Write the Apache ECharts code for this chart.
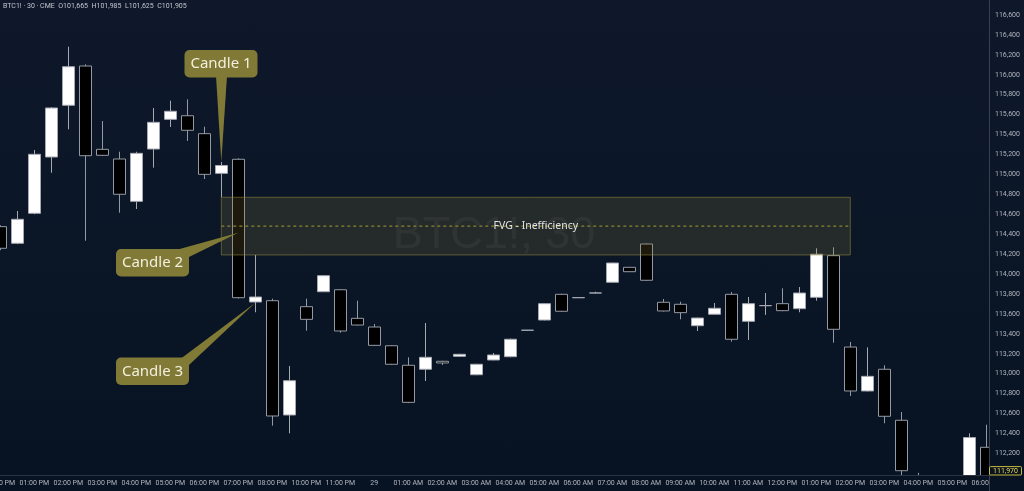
<!DOCTYPE html>
<html>
<head>
<meta charset="utf-8">
<script src="https://cdn.jsdelivr.net/npm/echarts@6/dist/echarts.min.js"></script>
<style>
  html, body { margin: 0; padding: 0; overflow: hidden; width: 1024px; height: 491px; }
  body { background: linear-gradient(#0e182a, #071323); position: relative; }
  /* chart canvas shifted so the first bar sits on the left edge, as in the screenshot */
  #chart { position: absolute; left: -9px; top: -5px; width: 1040px; height: 500px; }
</style>
</head>
<body>
<div id="chart"></div>
<script>
// 30 min bars, BTC1! CME
const times = [
  "12:00 PM", "12:30 PM", "01:00 PM", "01:30 PM", "02:00 PM", "02:30 PM", "03:00 PM", "03:30 PM",
  "04:00 PM", "04:30 PM", "05:00 PM", "05:30 PM", "06:00 PM", "06:30 PM", "07:00 PM", "07:30 PM",
  "08:00 PM", "08:30 PM", "10:00 PM", "10:30 PM", "11:00 PM", "11:30 PM", "29", "12:30 AM",
  "01:00 AM", "01:30 AM", "02:00 AM", "02:30 AM", "03:00 AM", "03:30 AM", "04:00 AM", "04:30 AM",
  "05:00 AM", "05:30 AM", "06:00 AM", "06:30 AM", "07:00 AM", "07:30 AM", "08:00 AM", "08:30 AM",
  "09:00 AM", "09:30 AM", "10:00 AM", "10:30 AM", "11:00 AM", "11:30 AM", "12:00 PM", "12:30 PM",
  "01:00 PM", "01:30 PM", "02:00 PM", "02:30 PM", "03:00 PM", "03:30 PM", "04:00 PM", "04:30 PM",
  "05:00 PM", "05:30 PM", "06:00 PM"
];

const opens = [
  114476, 114309, 114610, 115175, 115694, 116088, 115252, 115155, 114730, 115255,
  115553, 115589, 115409, 115011, 115152, 113720, 113733, 112586, 113673, 113823,
  113843, 113556, 113469, 113281, 113085, 113045, 113125, 113175, 112990, 113138,
  113171, 113436, 113539, 113797, 113763, 113810, 113918, 114068, 114302, 113717,
  113697, 113482, 113597, 113797, 113526, 113683, 113703, 113653, 113767, 114185,
  113268, 112827, 113045, 112533, 111950, 111880, 111840, 111900, 112262
];
const closes = [
  114259, 114550, 115202, 115667, 116081, 115188, 115192, 114801, 115212, 115523,
  115634, 115443, 115001, 115090, 113763, 113770, 112576, 112930, 113546, 113984,
  113429, 113489, 113285, 113095, 112713, 113165, 113108, 113195, 113095, 113188,
  113346, 113437, 113703, 113627, 113764, 113811, 114111, 114024, 113938, 113630,
  113613, 113559, 113657, 113346, 113703, 113684, 113633, 113810, 114199, 113446,
  112827, 112974, 112573, 112027, 111880, 111830, 111900, 112360, 111970
];
const lows = [
  114240, 114300, 114600, 115017, 115453, 114335, 115185, 114616, 114653, 115068,
  115476, 115336, 114954, 114771, 113755, 113617, 112479, 112402, 113432, 113820,
  113412, 113485, 113280, 113090, 112705, 112927, 113088, 113170, 112985, 113135,
  113165, 113432, 113535, 113622, 113760, 113806, 113912, 114020, 113932, 113625,
  113546, 113429, 113592, 113322, 113339, 113590, 113628, 113617, 113733, 113312,
  112777, 112822, 112503, 111960, 111840, 111780, 111760, 111880, 111950
];
const highs = [
  114490, 114633, 115245, 115675, 116282, 116105, 115536, 115228, 115228, 115667,
  115740, 115754, 115479, 115125, 115162, 114192, 113753, 113078, 113753, 113990,
  113850, 113733, 113499, 113285, 113165, 113509, 113130, 113200, 113100, 113208,
  113353, 113440, 113708, 113803, 113768, 113823, 114115, 114072, 114306, 113750,
  113723, 113563, 113710, 113820, 113770, 113810, 113857, 113870, 114259, 114269,
  113319, 113265, 113085, 112616, 112005, 111940, 111960, 112402, 112489
];

const lastPrice = 111970;
// FVG zone: candle 1 low -> candle 3 high
const fvgFrom = 13, fvgTo = 50, fvgTop = 114771, fvgBottom = 114192;
const calloutNames = ["Candle 1", "Candle 2", "Candle 3"];
const calloutIndex = [13, 14, 15];
const calloutPrice = [115125, 114415, 113713];

const ohlc = opens.map((o, i) => [o, closes[i], lows[i], highs[i]]);

// page -> chart canvas offset (see #chart css)
const DX = 9, DY = 5;

const bgGrad = {
  type: "linear", x: 0, y: DY, x2: 0, y2: DY + 491, global: true,
  colorStops: [{ offset: 0, color: "#0e182a" }, { offset: 1, color: "#071323" }]
};
const axisText = "#b2b5be";
const olive = "#807a36";

const chart = echarts.init(document.getElementById("chart"));

chart.setOption({
  animation: false,
  grid: { left: 0.8, right: 36.2, top: 0.07, bottom: 1.68, outerBoundsMode: "none", containLabel: false },
  xAxis: {
    type: "category",
    data: times,
    boundaryGap: true,
    offset: -18.3,
    z: 60,
    axisLine: { onZero: false, lineStyle: { color: "#2c3240" } },
    axisTick: { show: false },
    splitLine: { show: false },
    axisLabel: {
      interval: (i, v) => v.indexOf(":00") > 0 || v === "29",
      color: axisText,
      fontSize: 7,
      fontFamily: "Roboto",
      margin: 5
    }
  },
  yAxis: {
    type: "value",
    position: "right",
    min: 111800,
    max: 116800,
    interval: 200,
    offset: -5.8,
    z: 70,
    axisLine: { show: true, lineStyle: { color: "#3a404d" } },
    axisTick: { show: false },
    splitLine: { show: false },
    axisLabel: {
      color: axisText,
      fontSize: 7,
      fontFamily: "Roboto",
      margin: 6,
      formatter: (v) => (v < 112100 || v > 116700 ? "" : v.toLocaleString("en-US"))
    }
  },
  series: [{
    type: "candlestick",
    data: ohlc,
    barWidth: 12,
    itemStyle: {
      color: "#ffffff",
      color0: "#000000",
      borderColor: "#a6a9b1",
      borderColor0: "#9599a3",
      borderWidth: 1
    }
  }]
});

// annotations anchored to the data
const px = (i, p) => chart.convertToPixel({ gridIndex: 0 }, [i, p]);
const tl = px(fvgFrom, fvgTop);
const br = px(fvgTo, fvgBottom);
const midY = (tl[1] + br[1]) / 2;

const graphics = [
  // watermark
  {
    type: "text", z: 1, silent: true,
    style: {
      text: "BTC1!, 30", x: 494 + DX, y: 236 + DY, align: "center", verticalAlign: "middle",
      font: "45px 'Liberation Sans'", fill: "rgba(255,255,255,0.055)"
    }
  },
  // FVG box
  {
    type: "rect", z: 10, silent: true,
    shape: { x: tl[0], y: tl[1], width: br[0] - tl[0], height: br[1] - tl[1] },
    style: { fill: "rgba(130,120,60,0.22)", stroke: "rgba(150,140,60,0.55)", lineWidth: 1 }
  },
  {
    type: "line", z: 11, silent: true,
    shape: { x1: tl[0], y1: midY, x2: br[0], y2: midY },
    style: { stroke: "#8a8434", lineWidth: 1.2, lineDash: [3, 3] }
  },
  {
    type: "text", z: 12, silent: true,
    style: {
      text: "FVG - Inefficiency", x: (tl[0] + br[0]) / 2, y: midY, align: "center", verticalAlign: "middle",
      font: "10.5px 'Noto Sans'", fill: "#e2e2e2"
    }
  },
  // axis panel masks
  {
    type: "rect", z: 50, silent: true,
    shape: { x: 0, y: 475.5 + DY, width: 1040, height: 30 },
    style: { fill: bgGrad }
  },
  {
    type: "rect", z: 65, silent: true,
    shape: { x: 989.5 + DX, y: 0, width: 60, height: 510 },
    style: { fill: bgGrad }
  },
  // header
  {
    type: "text", z: 80, silent: true,
    style: {
      text: "BTC1! · 30 · CME  O101,665  H101,985  L101,625  C101,905", x: 3 + DX, y: 3 + DY,
      font: "7px Roboto", fill: "#c3c6ce"
    }
  }
];

// last price label
const lp = px(fvgTo, lastPrice);
const lpY = Math.min(lp[1], 470.8 + DY);
graphics.push({
  type: "rect", z: 80, silent: true,
  shape: { x: 989.5 + DX, y: lpY - 4.2, width: 32, height: 8.4, r: 1 },
  style: { fill: "#0a1320", stroke: "#c6bb3c", lineWidth: 1 }
});
graphics.push({
  type: "text", z: 81, silent: true,
  style: {
    text: lastPrice.toLocaleString("en-US"), x: 1005.5 + DX, y: lpY + 0.3, align: "center", verticalAlign: "middle",
    font: "7px Roboto", fill: "#e4d85a"
  }
});

// callout boxes (page pixel layout)
const boxes = [
  { x: 184.5, y: 50, base: [[216, 76], [227, 76]] },
  { x: 116, y: 249, base: [[176, 250], [189, 257]] },
  { x: 116, y: 357.5, base: [[181, 358.5], [189, 365]] }
];
boxes.forEach((b, k) => {
  const tip = px(calloutIndex[k], calloutPrice[k]);
  graphics.push({
    type: "polygon", z: 80, silent: true,
    shape: { points: [[b.base[0][0] + DX, b.base[0][1] + DY], [b.base[1][0] + DX, b.base[1][1] + DY], tip] },
    style: { fill: olive }
  });
  graphics.push({
    type: "rect", z: 81, silent: true,
    shape: { x: b.x + DX, y: b.y + DY, width: 73, height: 27.5, r: 5 },
    style: { fill: olive }
  });
  graphics.push({
    type: "text", z: 82, silent: true,
    style: {
      text: calloutNames[k], x: b.x + DX + 36.5, y: b.y + DY + 14, align: "center", verticalAlign: "middle",
      font: "15px 'Noto Sans'", fill: "#f3efdc"
    }
  });
});

chart.setOption({ graphic: graphics });
</script>
</body>
</html>
